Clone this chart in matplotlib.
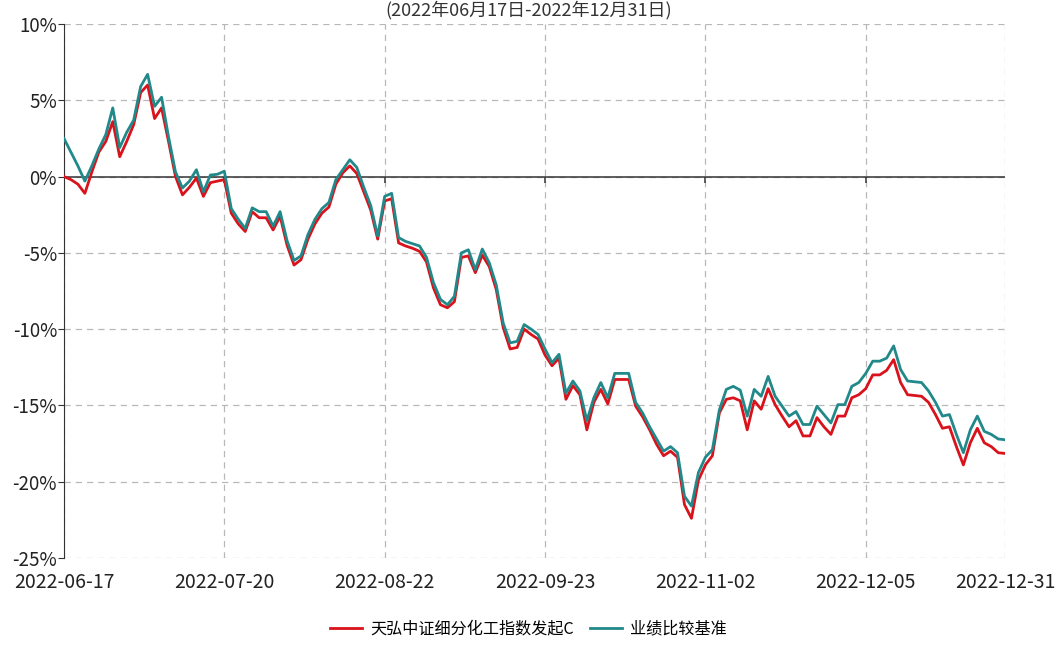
import matplotlib
matplotlib.use('Agg')
import matplotlib.pyplot as plt
from matplotlib.ticker import FuncFormatter

plt.rcParams['font.family'] = ['Noto Sans CJK SC', 'DejaVu Sans']

TITLE = '(2022年06月17日-2022年12月31日)'
FUND_NAME = '天弘中证细分化工指数发起C'
BENCH_NAME = '业绩比较基准'

TICK_POS = [0, 23, 46, 69, 92, 115, 135]
TICK_LABELS = ['2022-06-17', '2022-07-20', '2022-08-22', '2022-09-23',
               '2022-11-02', '2022-12-05', '2022-12-31']

# cumulative return (%), one value per trading day
fund = [0.0, -0.2, -0.5, -1.1, 0.3, 1.6, 2.3, 3.6, 1.3, 2.3,
        3.4, 5.5, 6.0, 3.8, 4.5, 2.3, 0.0, -1.2, -0.7, -0.1,
        -1.3, -0.4, -0.3, -0.2, -2.4, -3.1, -3.6, -2.3, -2.7, -2.7,
        -3.5, -2.6, -4.5, -5.8, -5.45, -4.1, -3.1, -2.4, -2.0, -0.5,
        0.25, 0.7, 0.2, -1.0, -2.2, -4.1, -1.6, -1.45, -4.35, -4.55,
        -4.7, -4.9, -5.6, -7.3, -8.4, -8.6, -8.2, -5.3, -5.2, -6.3,
        -5.15, -5.9, -7.4, -9.9, -11.3, -11.2, -10.0, -10.35, -10.65, -11.7,
        -12.4, -11.9, -14.6, -13.7, -14.3, -16.6, -14.8, -13.95, -14.9, -13.3,
        -13.3, -13.3, -15.05, -15.75, -16.6, -17.55, -18.3, -18.0, -18.4, -21.5,
        -22.4, -19.9, -18.9, -18.3, -15.5, -14.6, -14.5, -14.7, -16.6, -14.7,
        -15.25, -13.9, -14.95, -15.7, -16.4, -16.0, -17.0, -17.0, -15.8, -16.4,
        -16.9, -15.7, -15.7, -14.5, -14.3, -13.9, -13.0, -13.0, -12.7, -12.0,
        -13.5, -14.3, -14.35, -14.4, -14.8, -15.6, -16.5, -16.4, -17.7, -18.9,
        -17.45, -16.5, -17.45, -17.7, -18.1, -18.15]

bench = [2.5, 1.6, 0.7, -0.3, 0.7, 1.8, 2.75, 4.5, 1.9, 2.9,
         3.7, 5.9, 6.7, 4.6, 5.2, 2.6, 0.3, -0.75, -0.3, 0.45,
         -1.0, 0.1, 0.15, 0.35, -2.1, -2.8, -3.4, -2.05, -2.3, -2.3,
         -3.25, -2.3, -4.2, -5.5, -5.2, -3.8, -2.8, -2.1, -1.7, -0.2,
         0.45, 1.1, 0.6, -0.7, -1.9, -3.9, -1.3, -1.1, -4.0, -4.25,
         -4.4, -4.55, -5.3, -6.95, -8.05, -8.4, -7.85, -5.0, -4.8, -6.1,
         -4.75, -5.65, -7.1, -9.6, -10.9, -10.8, -9.7, -10.0, -10.35, -11.3,
         -12.2, -11.65, -14.2, -13.4, -14.05, -16.0, -14.5, -13.5, -14.5, -12.9,
         -12.9, -12.9, -14.8, -15.5, -16.4, -17.2, -18.0, -17.7, -18.1, -20.95,
         -21.6, -19.4, -18.4, -17.9, -15.3, -13.95, -13.75, -14.0, -15.7, -13.95,
         -14.4, -13.1, -14.4, -15.05, -15.7, -15.4, -16.25, -16.25, -15.05, -15.6,
         -16.15, -14.95, -14.95, -13.75, -13.5, -12.9, -12.1, -12.1, -11.9, -11.1,
         -12.65, -13.4, -13.45, -13.5, -14.05, -14.8, -15.7, -15.6, -16.9, -18.1,
         -16.6, -15.7, -16.7, -16.9, -17.2, -17.25]

fig = plt.figure(figsize=(10.57, 6.52), dpi=100)
ax = fig.add_axes([0.0605, 0.1442, 0.8905, 0.8190])

x = list(range(len(fund)))
ax.plot(x, fund, color='#d9121b', lw=2.0, label=FUND_NAME, zorder=3)
ax.plot(x, bench, color='#22898a', lw=2.0, label=BENCH_NAME, zorder=4)

ax.set_xlim(0, len(fund) - 1)
ax.set_ylim(-25, 10)
ax.set_yticks(range(-25, 11, 5))
ax.yaxis.set_major_formatter(FuncFormatter(lambda v, p: f'{int(v)}%'))
ax.set_xticks(TICK_POS)
ax.set_xticklabels(TICK_LABELS)

ax.grid(True, color='#b8b8b8', linestyle=(0, (5, 4)), lw=0.9)
ax.axhline(0, color='#333333', lw=1.1, zorder=2)
ax.vlines(TICK_POS[1:-1], -0.4, 0, color='#333333', lw=1.1, zorder=2)

for s in ['top', 'right', 'bottom']:
    ax.spines[s].set_visible(False)
ax.spines['left'].set_color('#333333')
ax.tick_params(axis='y', length=4, color='#333333', labelsize=13.5, labelcolor='#222222', pad=1)
ax.tick_params(axis='x', length=0, labelsize=14, labelcolor='#222222', pad=10)

fig.text(0.5, 0.999, TITLE, ha='center', va='top', fontsize=13, color='#333333')

fig.legend(loc='lower center', bbox_to_anchor=(0.5, 0.0), ncol=2, frameon=False,
           fontsize=11.6, handlelength=2.0, columnspacing=1.0, handletextpad=0.5)

fig.savefig('out.png', dpi=100)
